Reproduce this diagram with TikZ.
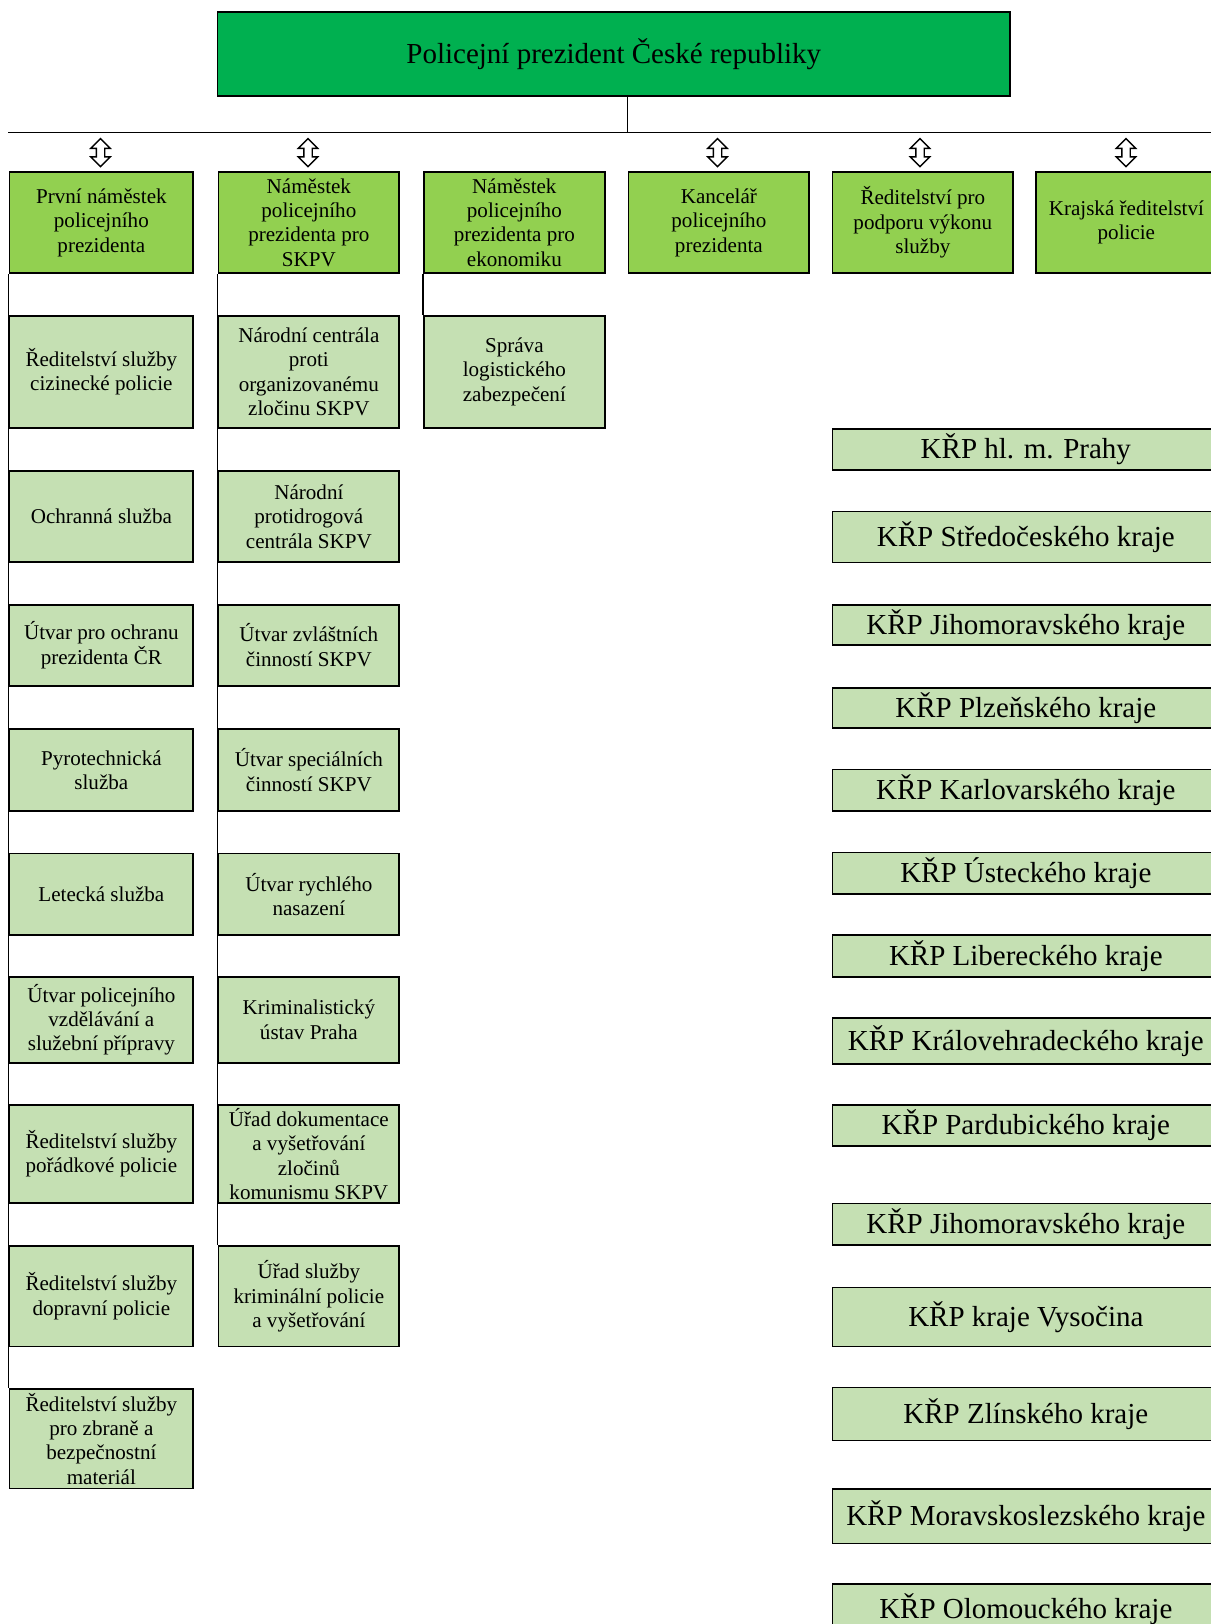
\documentclass[tikz,border=0pt]{standalone}
\usepackage{fontspec}
\setmainfont{Liberation Serif}
\usetikzlibrary{shapes.arrows}
\definecolor{ppgreen}{HTML}{00B050}
\definecolor{headgreen}{HTML}{92D050}
\definecolor{subgreen}{HTML}{C5E0B3}

\begin{document}
\begin{tikzpicture}[
  x=0.02cm, y=-0.02cm,
  box/.style={draw, line width=1pt, align=center, inner sep=0pt, font=\fontsize{12}{13.9}\selectfont},
  ppbox/.style={box, fill=ppgreen, minimum width=15.85cm, minimum height=1.68cm, font=\fontsize{16.5}{19}\selectfont},
  headbox/.style={box, fill=headgreen, minimum width=3.62cm, minimum height=2.03cm, anchor=north west},
  subbox/.style={box, fill=subgreen, minimum width=3.62cm, anchor=north west},
  krpbox/.style={box, fill=subgreen, minimum width=7.74cm, anchor=north west, font=\fontsize{16.5}{19}\selectfont},
  updown/.style={double arrow, draw, fill=white, line width=0.8pt, shape border rotate=90, minimum height=0.56cm, inner sep=0.07cm, double arrow head extend=0.11cm},
  link/.style={line width=1pt}
]
\useasboundingbox (0,0) rectangle (1211,1624);
\clip (0,0) rectangle (1211,1624);

% --- top ---
\node[ppbox] (pp) at (613.75,54.35) {Policejní prezident České republiky};

% --- bus ---
\coordinate (trunk) at (627.5,132.6);
\coordinate (busL) at (8.3,132.6);
\coordinate (busR) at (1215,132.6);
\draw[link] (pp.south -| trunk) -- (trunk);
\draw[link] (busL) -- (busR);

% --- deputies and departments ---
\node[headbox, minimum width=3.68cm] (h1) at (8.5,170.9) {První náměstek\\policejního\\prezidenta};
\node[headbox] (h2) at (217.5,170.9) {Náměstek\\policejního\\prezidenta pro\\SKPV};
\node[headbox] (h3) at (423,170.9) {Náměstek\\policejního\\prezidenta pro\\ekonomiku};
\node[headbox] (h4) at (627.5,170.9) {Kancelář\\policejního\\prezidenta};
\node[headbox] (h5) at (831.5,170.9) {Ředitelství pro\\podporu výkonu\\služby};
\node[headbox] (h6) at (1035,170.9) {Krajská ředitelství\\policie};

% up-down arrows under the bus (none over h3)
\node[updown] (a1) at (100.5,152.6) {};
\node[updown] (a2) at (308,152.6) {};
\node[updown] (a4) at (717.5,152.6) {};
\node[updown] (a5) at (920,152.6) {};
\node[updown] (a6) at (1126,152.6) {};

% --- first deputy ---
\node[subbox, minimum width=3.68cm, minimum height=2.24cm] (s1a) at (8.5,314.9) {Ředitelství služby\\cizinecké policie};
\node[subbox, minimum width=3.68cm, minimum height=1.82cm] (s1b) at (8.5,470.3) {Ochranná služba};
\node[subbox, minimum width=3.68cm, minimum height=1.62cm] (s1c) at (8.5,603.9) {Útvar pro ochranu\\prezidenta ČR};
\node[subbox, minimum width=3.68cm, minimum height=1.64cm] (s1d) at (8.5,728.2) {Pyrotechnická\\služba};
\node[subbox, minimum width=3.68cm, minimum height=1.64cm] (s1e) at (8.5,852.5) {Letecká služba};
\node[subbox, minimum width=3.68cm, minimum height=1.72cm] (s1f) at (8.5,975.8) {Útvar policejního\\vzdělávání a\\služební přípravy};
\node[subbox, minimum width=3.68cm, minimum height=1.95cm] (s1g) at (8.5,1104.3) {Ředitelství služby\\pořádkové policie};
\node[subbox, minimum width=3.68cm, minimum height=2.01cm] (s1h) at (8.5,1245.2) {Ředitelství služby\\dopravní policie};
\node[subbox, minimum width=3.68cm, minimum height=1.99cm] (s1i) at (8.5,1388.1) {Ředitelství služby\\pro zbraně a\\bezpečnostní\\materiál};

% --- deputy for SKPV ---
\node[subbox, minimum height=2.24cm] (s2a) at (217.5,314.9) {Národní centrála\\proti\\organizovanému\\zločinu SKPV};
\node[subbox, minimum height=1.82cm] (s2b) at (217.5,470.3) {Národní\\protidrogová\\centrála SKPV};
\node[subbox, minimum height=1.62cm] (s2c) at (217.5,603.9) {Útvar zvláštních\\činností SKPV};
\node[subbox, minimum height=1.64cm] (s2d) at (217.5,728.2) {Útvar speciálních\\činností SKPV};
\node[subbox, minimum height=1.64cm] (s2e) at (217.5,852.5) {Útvar rychlého\\nasazení};
\node[subbox, minimum height=1.72cm] (s2f) at (217.5,975.8) {Kriminalistický\\ústav Praha};
\node[subbox, minimum height=1.95cm] (s2g) at (217.5,1104.3) {Úřad dokumentace\\a vyšetřování\\zločinů\\komunismu SKPV};
\node[subbox, minimum height=2.01cm] (s2h) at (217.5,1245.2) {Úřad služby\\kriminální policie\\a vyšetřování};

% --- deputy for economy ---
\node[subbox, minimum height=2.24cm] (s3a) at (423,314.9) {Správa\\logistického\\zabezpečení};

% --- regional directorates ---
\node[krpbox, minimum height=0.83cm] (k1) at (831.5,427.8) {KŘP hl. m. Prahy};
\node[krpbox, minimum height=1.02cm] (k2) at (831.5,510.7) {KŘP Středočeského kraje};
\node[krpbox, minimum height=0.81cm] (k3) at (831.5,603.9) {KŘP Jihomoravského kraje};
\node[krpbox, minimum height=0.81cm] (k4) at (831.5,686.8) {KŘP Plzeňského kraje};
\node[krpbox, minimum height=0.83cm] (k5) at (831.5,768.6) {KŘP Karlovarského kraje};
\node[krpbox, minimum height=0.83cm] (k6) at (831.5,851.5) {KŘP Ústeckého kraje};
\node[krpbox, minimum height=0.83cm] (k7) at (831.5,934.4) {KŘP Libereckého kraje};
\node[krpbox, minimum height=0.91cm] (k8) at (831.5,1017.3) {KŘP Královehradeckého kraje};
\node[krpbox, minimum height=0.81cm] (k9) at (831.5,1104.3) {KŘP Pardubického kraje};
\node[krpbox, minimum height=0.83cm] (k10) at (831.5,1202.7) {KŘP Jihomoravského kraje};
\node[krpbox, minimum height=1.18cm] (k11) at (831.5,1286.6) {KŘP kraje Vysočina};
\node[krpbox, minimum height=1.06cm] (k12) at (831.5,1386.6) {KŘP Zlínského kraje};
\node[krpbox, minimum height=1.09cm] (k13) at (831.5,1488) {KŘP Moravskoslezského kraje};
\node[krpbox, minimum height=1.00cm] (k14) at (831.5,1583) {KŘP Olomouckého kraje};

% --- column lines ---
\draw[link] (h1.south west) -- (s1i.north west);
\draw[link] (h2.south west) -- (s2h.north west);
\draw[link] (h3.south west) -- (s3a.north west);

\end{tikzpicture}
\end{document}
